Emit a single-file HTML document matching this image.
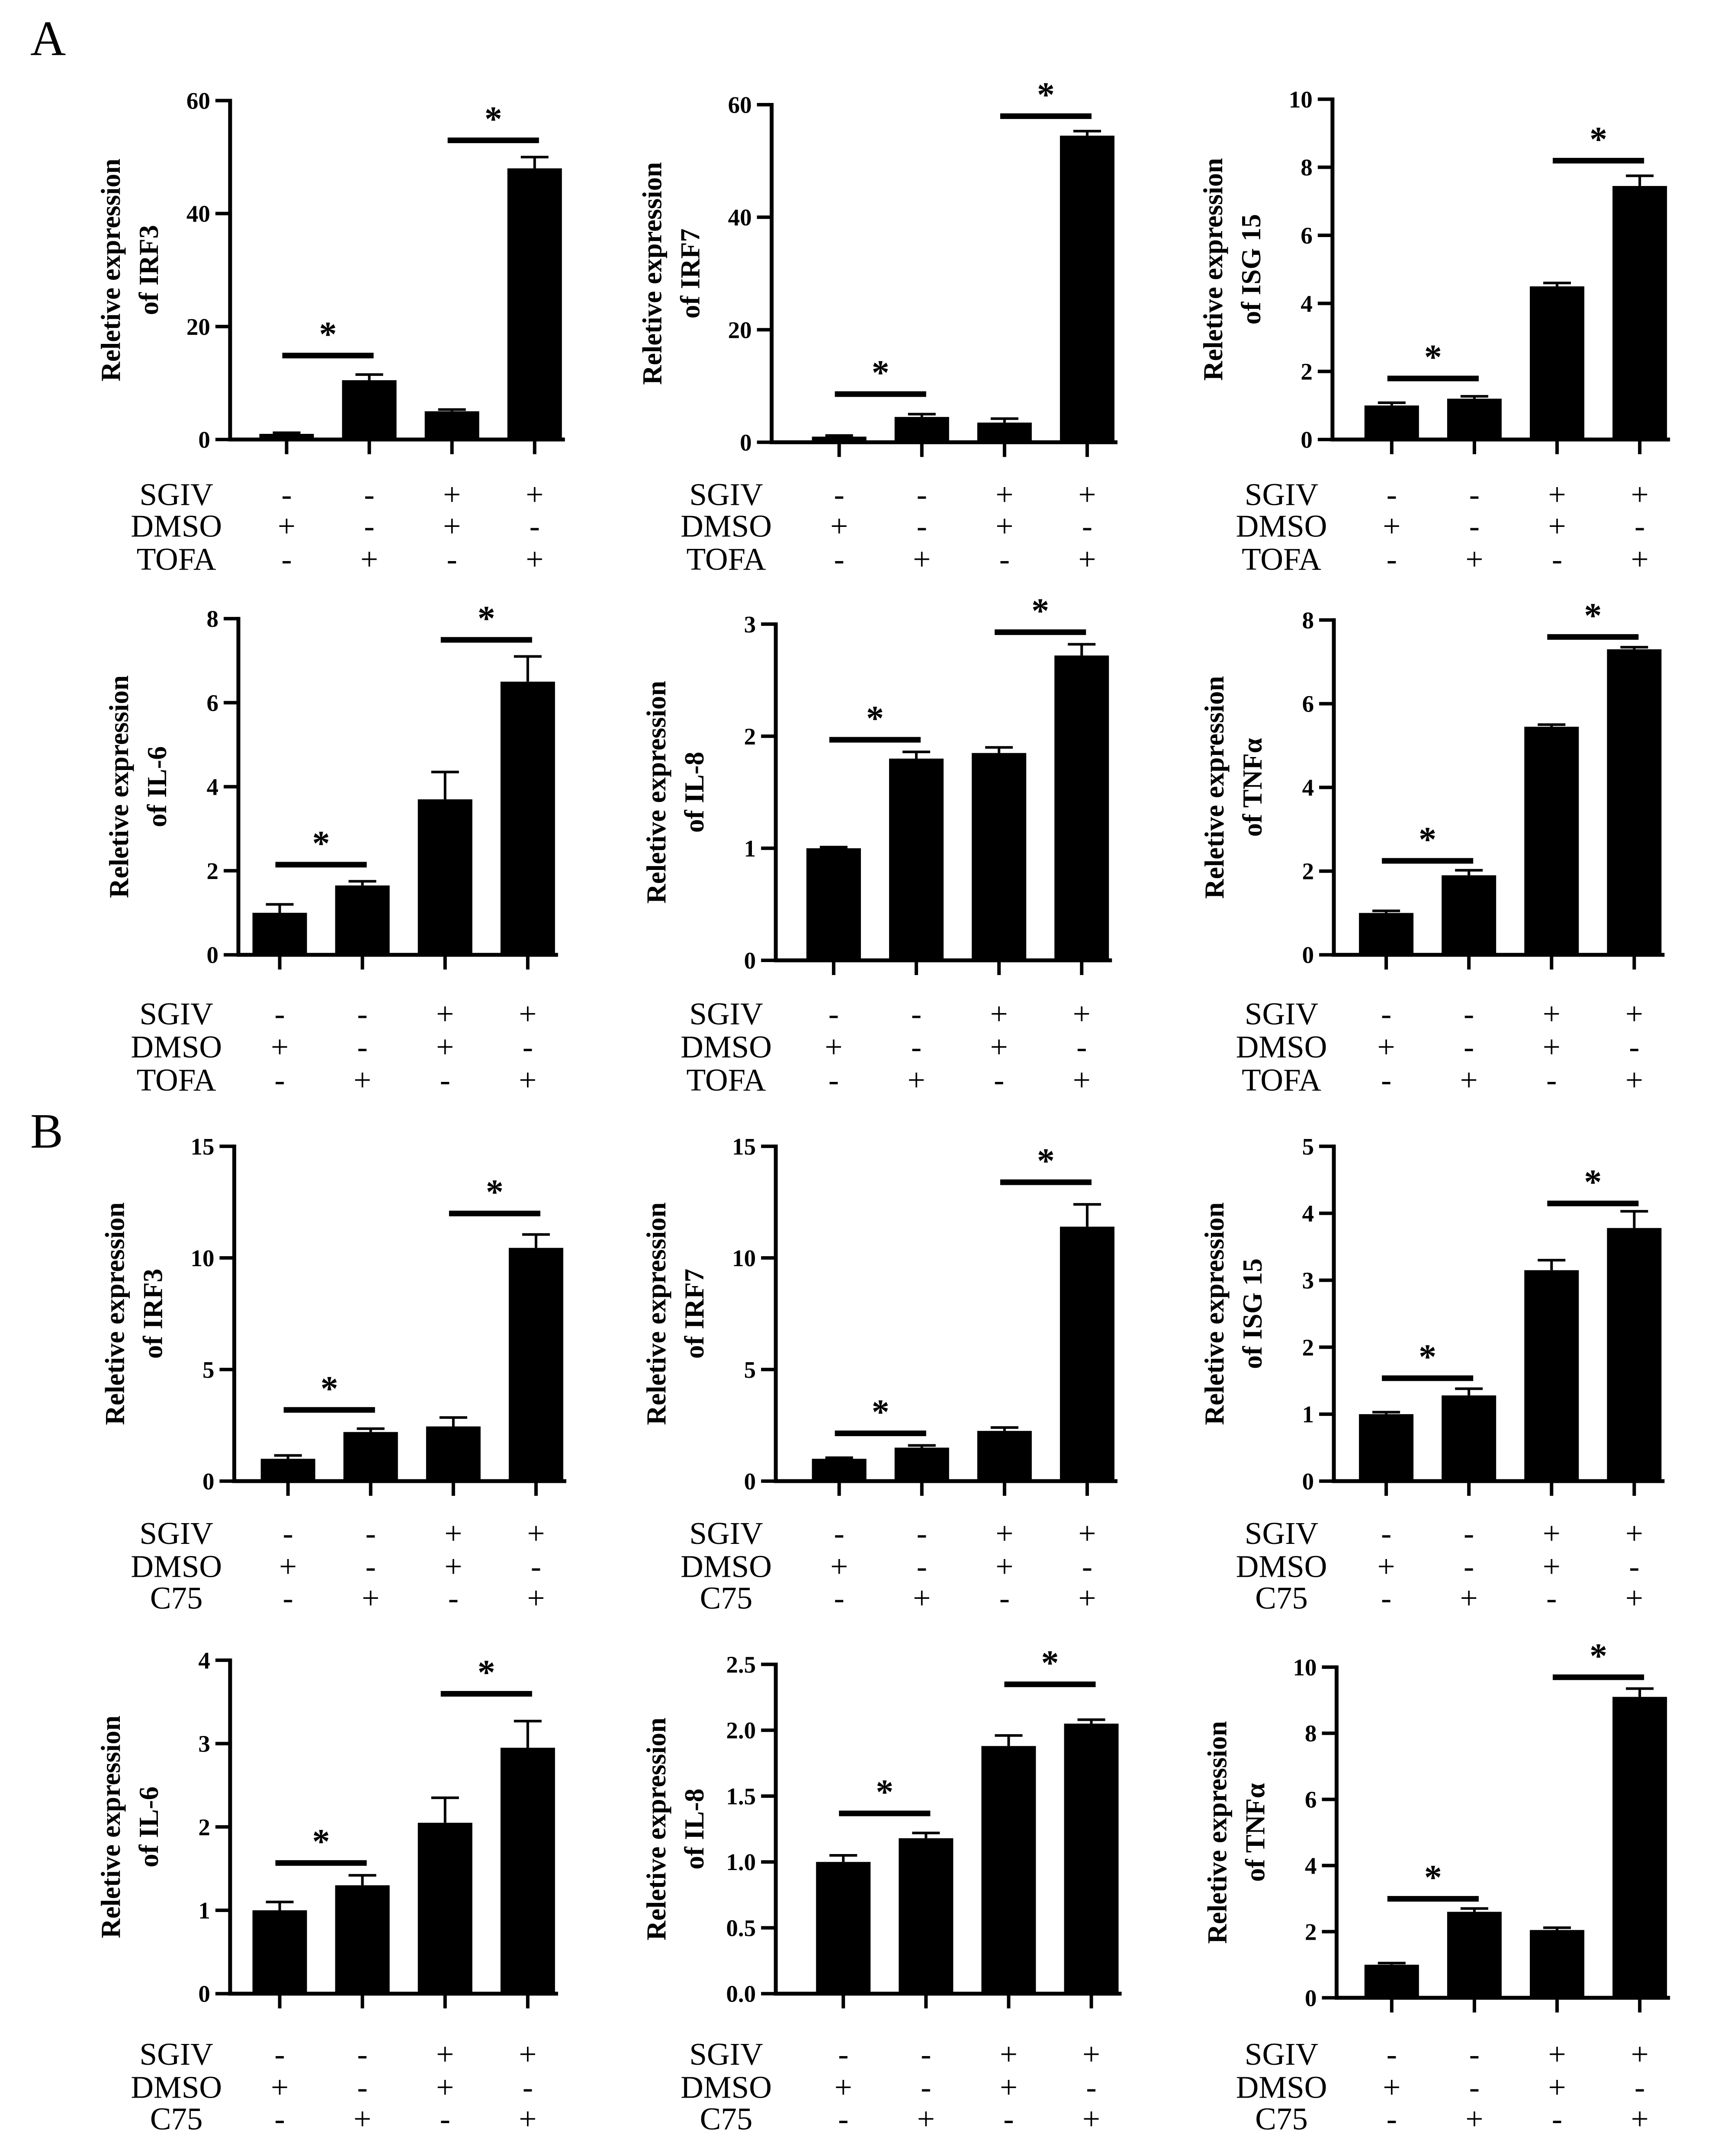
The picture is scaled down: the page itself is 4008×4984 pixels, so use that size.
<!DOCTYPE html>
<html><head><meta charset="utf-8"><style>
html,body{margin:0;padding:0;background:#fff;}
svg{display:block;font-family:"Liberation Serif",serif;}
</style></head><body>
<svg id="fig" width="4008" height="4984" viewBox="0 0 4008 4984" xmlns="http://www.w3.org/2000/svg">
<text x="70" y="127" font-size="114">A</text>
<text x="70" y="2653" font-size="114">B</text>
</svg>
<script>
const categories = ["1","2","3","4"];
const sgivSigns = ["-","-","+","+"];
const dmsoSigns = ["+","-","+","-"];
const drugSigns = ["-","+","-","+"];

const irf3AValues = [1, 10.5, 5, 48];
const irf3AErr = [0.2, 1, 0.3, 2];
const irf3ATicks = ["0","20","40","60"];
const irf3ASig = [14.9, 53];

const irf7AValues = [1, 4.5, 3.5, 54.5];
const irf7AErr = [0.2, 0.5, 0.7, 0.8];
const irf7ATicks = ["0","20","40","60"];
const irf7ASig = [8.6, 58];

const isg15AValues = [1, 1.2, 4.5, 7.45];
const isg15AErr = [0.08, 0.07, 0.1, 0.3];
const isg15ATicks = ["0","2","4","6","8","10"];
const isg15ASig = [1.8, 8.2];

const il6AValues = [1, 1.65, 3.7, 6.5];
const il6AErr = [0.2, 0.1, 0.65, 0.6];
const il6ATicks = ["0","2","4","6","8"];
const il6ASig = [2.15, 7.5];

const il8AValues = [1, 1.8, 1.85, 2.72];
const il8AErr = [0.01, 0.06, 0.05, 0.1];
const il8ATicks = ["0","1","2","3"];
const il8ASig = [1.97, 2.93];

const tnfAValues = [1, 1.9, 5.45, 7.3];
const tnfAErr = [0.05, 0.12, 0.05, 0.05];
const tnfATicks = ["0","2","4","6","8"];
const tnfASig = [2.25, 7.6];

const irf3BValues = [1, 2.2, 2.45, 10.45];
const irf3BErr = [0.15, 0.15, 0.4, 0.6];
const irf3BTicks = ["0","5","10","15"];
const irf3BSig = [3.2, 12.0];

const irf7BValues = [1, 1.5, 2.25, 11.4];
const irf7BErr = [0.05, 0.1, 0.15, 1];
const irf7BTicks = ["0","5","10","15"];
const irf7BSig = [2.15, 13.4];

const isg15BValues = [1, 1.28, 3.15, 3.78];
const isg15BErr = [0.03, 0.1, 0.15, 0.25];
const isg15BTicks = ["0","1","2","3","4","5"];
const isg15BSig = [1.54, 4.15];

const il6BValues = [1, 1.3, 2.05, 2.95];
const il6BErr = [0.1, 0.12, 0.3, 0.32];
const il6BTicks = ["0","1","2","3","4"];
const il6BSig = [1.57, 3.6];

const il8BValues = [1, 1.18, 1.88, 2.05];
const il8BErr = [0.05, 0.04, 0.08, 0.03];
const il8BTicks = ["0.0","0.5","1.0","1.5","2.0","2.5"];
const il8BSig = [1.37, 2.35];

const tnfBValues = [1, 2.6, 2.05, 9.1];
const tnfBErr = [0.05, 0.1, 0.07, 0.25];
const tnfBTicks = ["0","2","4","6","8","10"];
const tnfBSig = [3.0, 9.7];

const S = 3.185;
const panels = [
 {n:"irf3-a",g:"IRF3",v:irf3AValues,e:irf3AErr,t:irf3ATicks,s:irf3ASig,ax:167,top:73,base:319,c0:208,lab:128,rows:[359,382,406],drug:"TOFA"},
 {n:"irf7-a",g:"IRF7",v:irf7AValues,e:irf7AErr,t:irf7ATicks,s:irf7ASig,ax:560,top:76,base:321,c0:609,lab:527,rows:[359,382,406],drug:"TOFA"},
 {n:"isg15-a",g:"ISG 15",v:isg15AValues,e:isg15AErr,t:isg15ATicks,s:isg15ASig,ax:967,top:72,base:319,c0:1010,lab:930,rows:[359,382,406],drug:"TOFA"},
 {n:"il6-a",g:"IL-6",v:il6AValues,e:il6AErr,t:il6ATicks,s:il6ASig,ax:173,top:449,base:693,c0:203,lab:128,rows:[736,760,784],drug:"TOFA"},
 {n:"il8-a",g:"IL-8",v:il8AValues,e:il8AErr,t:il8ATicks,s:il8ASig,ax:563,top:453,base:697,c0:605,lab:527,rows:[736,760,784],drug:"TOFA"},
 {n:"tnf-a",g:"TNFα",v:tnfAValues,e:tnfAErr,t:tnfATicks,s:tnfASig,ax:968,top:450,base:693,c0:1006,lab:930,rows:[736,760,784],drug:"TOFA"},
 {n:"irf3-b",g:"IRF3",v:irf3BValues,e:irf3BErr,t:irf3BTicks,s:irf3BSig,ax:170,top:832,base:1075,c0:209,lab:128,rows:[1113,1137,1160],drug:"C75"},
 {n:"irf7-b",g:"IRF7",v:irf7BValues,e:irf7BErr,t:irf7BTicks,s:irf7BSig,ax:563,top:832,base:1075,c0:609,lab:527,rows:[1113,1137,1160],drug:"C75"},
 {n:"isg15-b",g:"ISG 15",v:isg15BValues,e:isg15BErr,t:isg15BTicks,s:isg15BSig,ax:968,top:832,base:1075,c0:1006,lab:930,rows:[1113,1137,1160],drug:"C75"},
 {n:"il6-b",g:"IL-6",v:il6BValues,e:il6BErr,t:il6BTicks,s:il6BSig,ax:167,top:1205,base:1447,c0:203,lab:128,rows:[1491,1515,1538],drug:"C75"},
 {n:"il8-b",g:"IL-8",v:il8BValues,e:il8BErr,t:il8BTicks,s:il8BSig,ax:563,top:1208,base:1447,c0:612,lab:527,rows:[1491,1515,1538],drug:"C75"},
 {n:"tnf-b",g:"TNFα",v:tnfBValues,e:tnfBErr,t:tnfBTicks,s:tnfBSig,ax:970,top:1210,base:1450,c0:1010,lab:930,rows:[1491,1515,1538],drug:"C75"}
];
const NS="http://www.w3.org/2000/svg";
const svg=document.getElementById('fig');
function mk(tag,attrs,parent,txt){const el=document.createElementNS(NS,tag);for(const k in attrs)el.setAttribute(k,attrs[k]);if(txt!==undefined)el.textContent=txt;parent.appendChild(el);return el;}
panels.forEach(p=>{
 const g=mk('g',{},svg);
 
 
 const ax=p.ax*S, top=p.top*S, base=p.base*S, step=60*S;
 const maxV=parseFloat(p.t[p.t.length-1]);
 const y=v=>base-(v/maxV)*(base-top);
 const xc=i=>p.c0*S+i*step;
 const right=xc(3)+70;
 p.v.forEach((v,i)=>{
  const r=mk('rect',{x:xc(i)-63,y:y(v),width:126,height:base-y(v),fill:'#000'},g);
  
  
  const et=y(v+p.e[i]);
  const l=mk('path',{d:`M${xc(i)} ${y(v)} V${et} M${xc(i)-32} ${et} H${xc(i)+32}`,stroke:'#000','stroke-width':6,fill:'none'},g);
  
  
 });
 const axes=mk('path',{d:`M${ax} ${top-4} V${base} H${right}`,stroke:'#000','stroke-width':9,fill:'none'},g);
 
 
 p.t.forEach(t=>{
  const yy=y(parseFloat(t));
  mk('line',{x1:ax-34,x2:ax,y1:yy,y2:yy,stroke:'#000','stroke-width':8},g);
  const tl=mk('text',{x:ax-46,y:yy+19,'font-size':55,'font-weight':'bold','text-anchor':'end'},g,t);
  
  
 });
 for(let i=0;i<4;i++) mk('line',{x1:xc(i),x2:xc(i),y1:base,y2:base+34,stroke:'#000','stroke-width':8},g);
 const tx=ax-255, ty=(top+base)/2;
 const yt=mk('text',{transform:`translate(${tx},${ty}) rotate(-90)`,'font-size':63,'font-weight':'bold','text-anchor':'middle'},g);
 
 
 mk('tspan',{x:0,y:0},yt,'Reletive expression');
 mk('tspan',{x:0,y:88},yt,'of '+p.g);
 [[0,1],[2,3]].forEach((pr,k)=>{
  const sy=y(p.s[k]);
  const sl=mk('rect',{x:xc(pr[0])-10,y:sy-6,width:step+20,height:13,fill:'#000'},g);
  
  
  const st=mk('text',{x:(xc(pr[0])+xc(pr[1]))/2,y:sy-22,'font-size':82,'font-weight':'bold','text-anchor':'middle'},g,'*');
  
  
 });
 const labels=['SGIV','DMSO',p.drug], signs=[sgivSigns,dmsoSigns,drugSigns];
 labels.forEach((lb,r)=>{
  const ry=p.rows[r]*S+24;
  const t=mk('text',{x:p.lab*S,y:ry,'font-size':73,'text-anchor':'middle'},g,lb);
  
  
  signs[r].forEach((sg,i)=>{
   const s=mk('text',{x:xc(i),y:ry,'font-size':73,'text-anchor':'middle'},g,sg);
   
   
  });
 });
});
</script>
</body></html>
